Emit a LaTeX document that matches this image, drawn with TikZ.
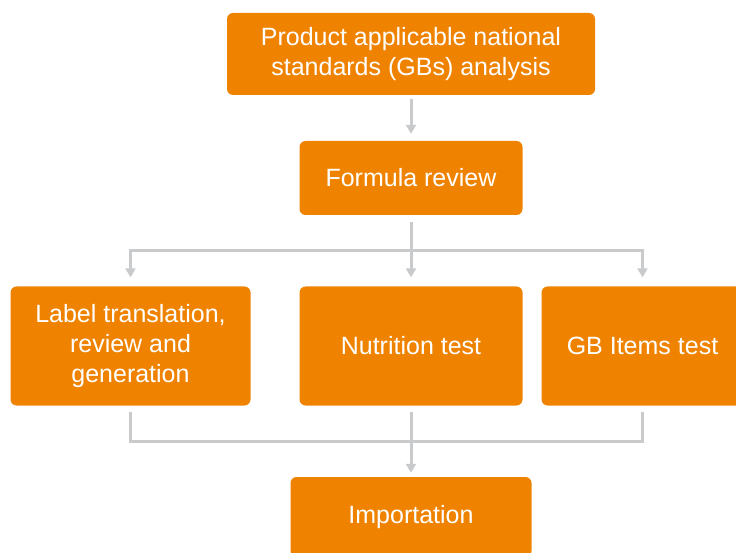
\documentclass[tikz,border=0pt]{standalone}
\usepackage{fontspec}
\setmainfont{Liberation Sans}
\usepackage{tikz}
\usetikzlibrary{arrows.meta}
\definecolor{boxorange}{HTML}{EF8300}
\definecolor{linegray}{HTML}{C9CACC}

\begin{document}
\begin{tikzpicture}[x=1pt, y=1pt, every node/.style={font=\fontsize{25}{30}\selectfont}, node distance=124pt]
% Define styles
\tikzstyle{stage} = [rectangle, rounded corners=6pt, align=center, fill=boxorange, text=white, inner sep=0pt]
\tikzstyle{link} = [draw=linegray, line width=3pt]
\tikzstyle{arrow} = [link, -{Triangle[width=10pt,length=9pt]}]
\useasboundingbox (0,0) rectangle (736,-553);
% Place nodes
\node (gbs) [stage, minimum width=368pt, minimum height=82pt] at (411,-54) {Product applicable national\\standards (GBs) analysis};
\node (formula) [stage, below of=gbs, minimum width=223pt, minimum height=74pt] {Formula review};
\node (nutrition) [stage, below of=formula, node distance=168pt, minimum width=223pt, minimum height=119pt] {Nutrition test};
\node (label) [stage, left of=nutrition, node distance=280.5pt, minimum width=240pt, minimum height=119pt] {Label translation,\\review and\\generation};
\node (items) [stage, right of=nutrition, node distance=231.5pt, minimum width=202pt, minimum height=119pt] {GB Items test};
\node (import) [stage, below of=nutrition, node distance=171pt, minimum width=241pt, minimum height=80pt] {Importation};
\coordinate (fork) at ([yshift=-35pt]formula.south);
\coordinate (join) at ([yshift=-36pt]nutrition.south);
% Draw arrows
\draw [arrow, shorten <=4pt, shorten >=7pt] (gbs) -- (formula);
\draw [link, shorten <=7pt] (formula) -- (fork);
\draw [arrow, shorten >=9pt] (fork) -| (label);
\draw [arrow, shorten >=9pt] (fork) -- (nutrition);
\draw [arrow, shorten >=9pt] (fork) -| (items);
\draw [link, shorten <=6pt] (label) |- (join);
\draw [link, shorten <=6pt] (items) |- (join);
\draw [arrow, shorten <=6pt, shorten >=4pt] (nutrition) -- (import);
\end{tikzpicture}
\end{document}
